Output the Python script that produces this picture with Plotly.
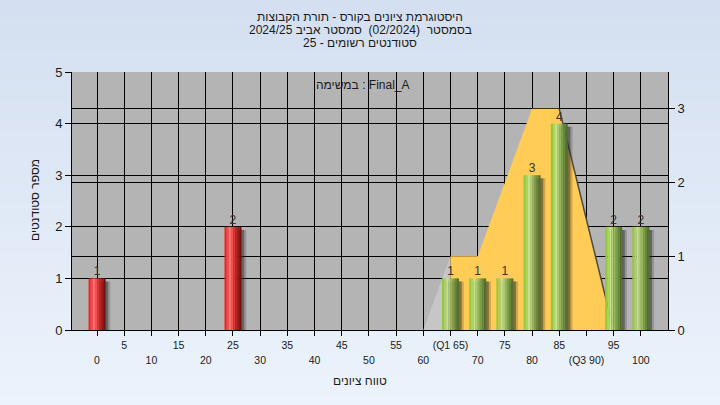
import plotly.graph_objects as go

# grade buckets and counts
grades = [0, 5, 10, 15, 20, 25, 30, 35, 40, 45, 50, 55, 60, 65, 70, 75, 80, 85, 90, 95, 100]
tick_labels = ['0', '5', '10', '15', '20', '25', '30', '35', '40', '45', '50', '55', '60',
               '(Q1 65)', '70', '75', '80', '85', '(Q3 90)', '95', '100']
counts = [1, 0, 0, 0, 0, 2, 0, 0, 0, 0, 0, 0, 0, 1, 1, 1, 3, 4, 0, 2, 2]
pass_grade = 60

# background distribution shape (right axis)
lead_x = [60, 65]
lead_y = [0, 1]
spread_x = [65, 70, 75, 80, 85, 90, 95]
spread_y = [1, 1, 2, 3, 3, 1.5, 0]
fall_x = [85, 95]
fall_y = [3, 0]

title_lines = ['היסטוגרמת ציונים בקורס - תורת הקבוצות',
               'בסמסטר  (02/2024)  סמסטר אביב 2024/25',
               'סטודנטים רשומים - 25']
task_label = 'במשימה : Final_A'
x_title = 'טווח ציונים'
y_title = 'מספר סטודנטים'

W, H = 720, 405
M = dict(l=72, r=52, t=72, b=75)
PW, PH = W - M['l'] - M['r'], H - M['t'] - M['b']
FONT = 'Arial, Liberation Sans, sans-serif'


def py(p):
    # page pixel row -> paper y
    return (H - M['b'] - p) / PH


def px_(p):
    return (p - M['l']) / PW


red_shades = ['#f41e1e', '#ff4444', '#ff7474', '#ee5050', '#d43636', '#b42626', '#941a1a', '#741010']
green_shades = ['#94c640', '#acd35e', '#c6e08e', '#b0cc76', '#96b65c', '#7e9c4a', '#68863c', '#52702e']

fig = go.Figure()

# distribution area on the right axis (main subplot, drawn under the bars)
fig.add_trace(go.Scatter(x=lead_x, y=lead_y, mode='lines', line=dict(width=0),
                         fill='tozeroy', fillcolor='#c6c6c6', hoverinfo='skip', showlegend=False))
fig.add_trace(go.Scatter(x=spread_x, y=spread_y, mode='lines', line=dict(width=0),
                         fill='tozeroy', fillcolor='#ffcc55', hoverinfo='skip', showlegend=False))
fig.add_trace(go.Scatter(x=fall_x, y=fall_y, mode='lines', line=dict(color='#4a4a4a', width=1.5),
                         hoverinfo='skip', showlegend=False))

bar_w = 3.1
n_sl = len(green_shades)
# soft shadow to the right of every bar
for off, col in [(0.9, 'rgba(40,40,40,0.22)'), (0.5, 'rgba(40,40,40,0.45)')]:
    fig.add_trace(go.Bar(x=grades, y=counts, base=-0.06, width=bar_w, offset=-bar_w / 2 + off,
                         marker=dict(color=col, line=dict(width=0)), yaxis='y2',
                         hoverinfo='skip', showlegend=False))
# cylinder-like bars built from vertical slices
for i in range(n_sl):
    cols = [red_shades[i] if g < pass_grade else green_shades[i] for g in grades]
    fig.add_trace(go.Bar(x=grades, y=counts, width=bar_w / n_sl + 0.02,
                         offset=-bar_w / 2 + i * bar_w / n_sl,
                         marker=dict(color=cols, line=dict(width=0)), yaxis='y2',
                         showlegend=False))

# count labels (on the second x axis so that it gets drawn)
lbl_x = [g for g, c in zip(grades, counts) if c > 0]
lbl_y = [c for c in counts if c > 0]
fig.add_trace(go.Scatter(x=lbl_x, y=lbl_y, mode='text', text=[str(v) for v in lbl_y],
                         textposition='top center', textfont=dict(size=12, color='#333333', family=FONT),
                         xaxis='x2', yaxis='y2', cliponaxis=False, hoverinfo='skip', showlegend=False))

# page background gradient + plot area fill
shapes = []
n_band = 40
top, bot = py(0), py(H)
for k in range(n_band):
    t = k / (n_band - 1)
    r = int(0xd4 + (0xec - 0xd4) * t)
    g = int(0xe0 + (0xf3 - 0xe0) * t)
    b = int(0xf1 + (0xfc - 0xf1) * t)
    y0 = top - (top - bot) * k / n_band
    y1 = top - (top - bot) * (k + 1) / n_band
    shapes.append(dict(type='rect', xref='paper', yref='paper', x0=px_(0), x1=px_(W), y0=y1 - 0.002, y1=y0,
                       fillcolor=f'rgb({r},{g},{b})', line=dict(width=0), layer='below'))
shapes.append(dict(type='rect', xref='paper', yref='paper', x0=0, x1=1, y0=0, y1=1,
                   fillcolor='#b4b4b4', line=dict(width=0), layer='below'))

annotations = []
for line, yp in zip(title_lines, [17, 30, 43]):
    annotations.append(dict(text=line, x=px_(360), y=py(yp), xref='paper', yref='paper',
                            xanchor='center', yanchor='middle', showarrow=False,
                            font=dict(size=12, color='#1a1a1a', family=FONT)))
annotations.append(dict(text=task_label, x=px_(363), y=py(85), xref='paper', yref='paper',
                        xanchor='center', yanchor='middle', showarrow=False,
                        font=dict(size=12, color='#1a1a1a', family=FONT)))
annotations.append(dict(text=x_title, x=px_(360), y=py(381), xref='paper', yref='paper',
                        xanchor='center', yanchor='middle', showarrow=False,
                        font=dict(size=12, color='#1a1a1a', family=FONT)))
annotations.append(dict(text=y_title, x=px_(35), y=py(200), xref='paper', yref='paper',
                        xanchor='center', yanchor='middle', showarrow=False, textangle=-90,
                        font=dict(size=12, color='#1a1a1a', family=FONT)))

x_range = [-4.6, 105]
fig.update_layout(
    width=W, height=H, margin=M,
    paper_bgcolor='#e2ebf7', plot_bgcolor='#b4b4b4',
    barmode='overlay', shapes=shapes, annotations=annotations,
    font=dict(family=FONT, color='#1a1a1a'),
    xaxis=dict(range=x_range, tickvals=grades,
               ticktext=[t if i % 2 else '' for i, t in enumerate(tick_labels)],
               ticks='outside', ticklen=5, tickcolor='black', tickfont=dict(size=10.5),
               showgrid=True, gridcolor='black', gridwidth=1,
               showline=True, linecolor='black', linewidth=1, zeroline=False, fixedrange=True),
    xaxis2=dict(range=x_range, overlaying='x', anchor='y', side='bottom',
                tickvals=grades[::2], ticktext=tick_labels[::2], ticks='',
                ticklabelstandoff=22, tickfont=dict(size=10.5),
                showgrid=False, showline=False, zeroline=False, fixedrange=True),
    yaxis=dict(range=[0, 3.5], side='right', tickvals=[0, 1, 2, 3],
               ticks='outside', ticklen=6, tickcolor='black', tickfont=dict(size=13),
               showgrid=True, gridcolor='black', gridwidth=1,
               showline=True, linecolor='black', linewidth=1, zeroline=False),
    yaxis2=dict(range=[0, 5], overlaying='y', side='left', tickvals=[0, 1, 2, 3, 4, 5],
                ticks='outside', ticklen=6, tickcolor='black', tickfont=dict(size=13),
                showgrid=True, gridcolor='black', gridwidth=1,
                showline=True, linecolor='black', linewidth=1, zeroline=False),
)

# drop the default body margin so the 720x405 figure fills the window
fig.write_html("out.html", config={'displayModeBar': False},
               post_script="document.body.style.margin='0';")
